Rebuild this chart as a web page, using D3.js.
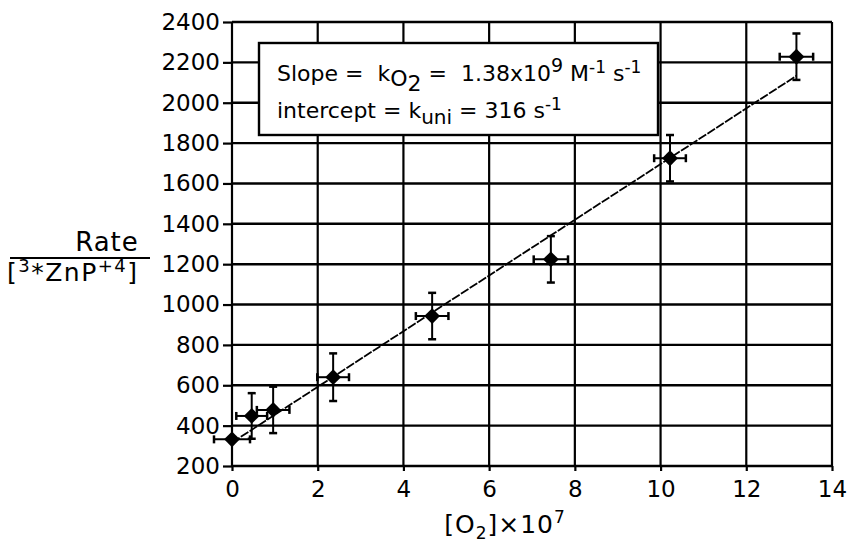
<!DOCTYPE html>
<html>
<head>
<meta charset="utf-8">
<script src="https://cdn.jsdelivr.net/npm/d3@7"></script>
<style>
  body { margin: 0; background: #fff; }
  svg text { font-family: "DejaVu Sans", Verdana, sans-serif; fill: #000; white-space: pre; }
</style>
</head>
<body>
<svg width="848" height="552"></svg>
<script>
// data
const o2 = [0.0, 0.46, 0.96, 2.36, 4.67, 7.44, 10.22, 13.17];
const rate = [332, 448, 478, 640, 943, 1224, 1725, 2228];
const xErr = [0.42, 0.36, 0.38, 0.37, 0.38, 0.40, 0.37, 0.39];
const yErr = [0, 113, 115, 118, 115, 115, 115, 115];
const xTicks = [0, 2, 4, 6, 8, 10, 12, 14];
const yTicks = [200, 400, 600, 800, 1000, 1200, 1400, 1600, 1800, 2000, 2200, 2400];
const slope = 138, intercept = 316;   // per unit of [O2]x10^7

const svg = d3.select('svg');
const m = {left: 232, right: 832, top: 22, bottom: 466};

const x = d3.scaleLinear().domain([0, 14]).range([m.left, m.right]);
const y = d3.scaleLinear().domain([200, 2400]).range([m.bottom, m.top]);

const g = svg.append('g');

// grid
g.selectAll('.hg').data(yTicks).enter().append('line')
  .attr('x1', m.left).attr('x2', m.right)
  .attr('y1', d => y(d)).attr('y2', d => y(d))
  .attr('stroke', '#000').attr('stroke-width', 2.4);
g.selectAll('.vg').data(xTicks).enter().append('line')
  .attr('y1', m.top).attr('y2', m.bottom)
  .attr('x1', d => x(d)).attr('x2', d => x(d))
  .attr('stroke', '#000').attr('stroke-width', 2.2);

// axes (ticks + labels)
const yAxis = g.append('g').attr('transform', `translate(${m.left},0)`)
  .call(d3.axisLeft(y).tickValues(yTicks).tickSize(9).tickPadding(3).tickFormat(d3.format('d')));
const xAxis = g.append('g').attr('transform', `translate(0,${m.bottom})`)
  .call(d3.axisBottom(x).tickValues(xTicks).tickSize(5).tickPadding(10).tickFormat(d3.format('d')));
[yAxis, xAxis].forEach(a => {
  a.select('.domain').remove();
  a.selectAll('line').attr('stroke', '#000').attr('stroke-width', 2.2);
  a.selectAll('text').attr('font-size', 23).attr('fill', '#000')
    .style('font-family', '"DejaVu Sans", Verdana, sans-serif');
});

// label box
g.append('rect').attr('x', 259).attr('y', 43).attr('width', 399).attr('height', 92)
  .attr('fill', '#fff').attr('stroke', '#000').attr('stroke-width', 2.4);

const t1 = g.append('text').attr('x', 277).attr('y', 81).attr('font-size', 22);
t1.append('tspan').text('Slope =  k');
t1.append('tspan').attr('dy', 5).attr('font-size', 22).text('O');
t1.append('tspan').attr('dy', 5).attr('font-size', 22).text('2');
t1.append('tspan').attr('dy', -10).text(' =  1.38x10');
t1.append('tspan').attr('dy', -9).attr('font-size', 19).text('9');
t1.append('tspan').attr('dy', 9).text(' M');
t1.append('tspan').attr('dy', -8).attr('font-size', 17).text('-1');
t1.append('tspan').attr('dy', 8).text(' s');
t1.append('tspan').attr('dy', -8).attr('font-size', 17).text('-1');

const t2 = g.append('text').attr('x', 277).attr('y', 118).attr('font-size', 22);
t2.append('tspan').text('intercept = k');
t2.append('tspan').attr('dy', 6).attr('font-size', 20).text('uni');
t2.append('tspan').attr('dy', -6).text(' = 316 s');
t2.append('tspan').attr('dy', -8).attr('font-size', 17).text('-1');

// fit line
const line = d3.line().x(d => x(d)).y(d => y(intercept + slope * d));
g.append('path').datum([0, o2[o2.length - 1]])
  .attr('d', line).attr('fill', 'none').attr('stroke', '#000').attr('stroke-width', 1.8)
  .attr('stroke-dasharray', '9,1.5');

// error bars
const pts = o2.map((d, i) => ({x: d, y: rate[i], ex: xErr[i], ey: yErr[i]}));
const eb = g.selectAll('.eb').data(pts).enter().append('g');
eb.append('line')
  .attr('x1', d => x(d.x - d.ex)).attr('x2', d => x(d.x + d.ex))
  .attr('y1', d => y(d.y)).attr('y2', d => y(d.y))
  .attr('stroke', '#000').attr('stroke-width', 2);
eb.filter(d => d.ey > 0).append('line')
  .attr('x1', d => x(d.x)).attr('x2', d => x(d.x))
  .attr('y1', d => y(d.y - d.ey)).attr('y2', d => y(d.y + d.ey))
  .attr('stroke', '#000').attr('stroke-width', 2);
// caps
[-1, 1].forEach(s => {
  eb.append('line')
    .attr('x1', d => x(d.x + s * d.ex)).attr('x2', d => x(d.x + s * d.ex))
    .attr('y1', d => y(d.y) - 4).attr('y2', d => y(d.y) + 4)
    .attr('stroke', '#000').attr('stroke-width', 2.5);
  eb.filter(d => d.ey > 0).append('line')
    .attr('x1', d => x(d.x) - 4).attr('x2', d => x(d.x) + 4)
    .attr('y1', d => y(d.y + s * d.ey)).attr('y2', d => y(d.y + s * d.ey))
    .attr('stroke', '#000').attr('stroke-width', 2.5);
});

// diamond markers
g.selectAll('.pt').data(pts).enter().append('path')
  .attr('d', d3.symbol(d3.symbolDiamond2, 160)())
  .attr('transform', d => `translate(${x(d.x)},${y(d.y)})`)
  .attr('fill', '#000');

// y axis title as a fraction
const yl = svg.append('g');
yl.append('text').attr('x', 107).attr('y', 251).attr('text-anchor', 'middle')
  .attr('font-size', 26).attr('letter-spacing', 1).text('Rate');
yl.append('line').attr('x1', 10).attr('x2', 150).attr('y1', 258).attr('y2', 258)
  .attr('stroke', '#000').attr('stroke-width', 2);
const yb = yl.append('text').attr('x', 7).attr('y', 281).attr('font-size', 25)
  .attr('letter-spacing', 1.5);
yb.append('tspan').text('[');
yb.append('tspan').attr('dy', -9).attr('font-size', 18).text('3');
yb.append('tspan').attr('dy', 9).text('*ZnP');
yb.append('tspan').attr('dy', -9).attr('font-size', 18).text('+4');
yb.append('tspan').attr('dy', 9).text(']');

// x axis title
const xt = svg.append('text').attr('x', 505).attr('y', 533).attr('text-anchor', 'middle')
  .attr('font-size', 25).attr('letter-spacing', 1);
xt.append('tspan').text('[O');
xt.append('tspan').attr('dy', 6).attr('font-size', 17).text('2');
xt.append('tspan').attr('dy', -6).text(']×10');
xt.append('tspan').attr('dy', -10).attr('font-size', 17).text('7');
</script>
</body>
</html>
